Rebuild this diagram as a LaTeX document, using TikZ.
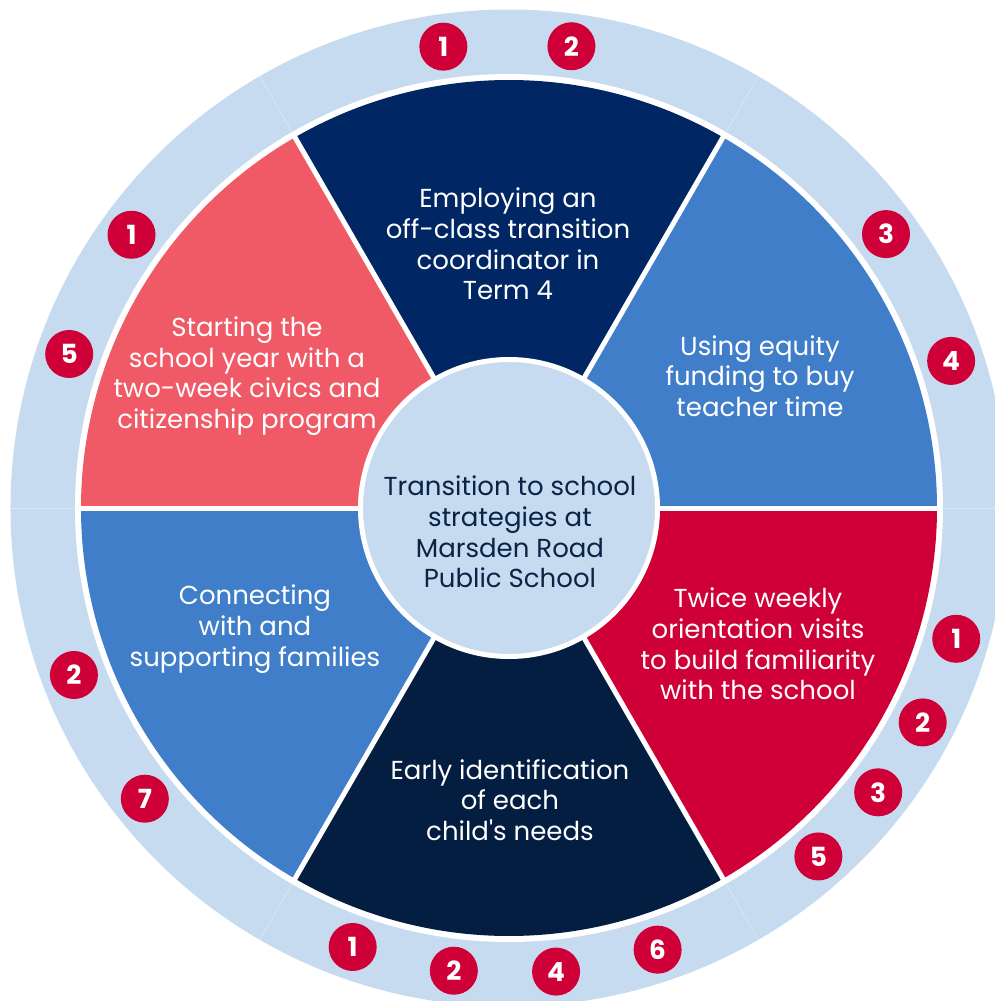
\documentclass[tikz,border=0pt]{standalone}
\usepackage{fontspec}
\setmainfont{Poppins}
\definecolor{ringblue}{HTML}{C6DBEF}
\definecolor{topnavy}{HTML}{002664}
\definecolor{deepnavy}{HTML}{041E42}
\definecolor{midblue}{HTML}{407EC9}
\definecolor{badgered}{HTML}{CE0037}
\definecolor{coral}{HTML}{F05A67}
\definecolor{hubtext}{HTML}{0A2346}

\begin{document}
\begin{tikzpicture}[
  sectortext/.style={text=white,align=center,font=\fontsize{14.8}{17.5}\selectfont},
  badge/.style={circle,fill=badgered,text=white,minimum size=0.96cm,inner sep=0pt,font=\bfseries\fontsize{15}{15}\selectfont},
  divider/.style={white,line width=0.1cm}]
\useasboundingbox (-10.18,-9.86) rectangle (9.72,10.16);
\clip (-10.18,-9.86) rectangle (9.72,10.16);
% outer ring
\fill[ringblue] (0,0) circle (9.97);
\foreach \a in {0,60,...,300}
   \draw[white,opacity=0.35,line width=0.4pt] (\a:8.7) -- (\a:9.97);
\fill[white] (0,0) circle (8.68);
% six sectors
\foreach \a/\c in {0/midblue,60/topnavy,120/coral,180/midblue,240/deepnavy,300/badgered}
   \fill[\c] (0,0) -- (\a:8.56) arc (\a:\a+60:8.56) -- cycle;
\foreach \a in {0,60,...,300}
   \draw[divider] (0,0) -- (\a:8.62);
% hub
\node[circle,fill=ringblue,draw=white,line width=0.1cm,minimum size=5.94cm] (hub) at (0,0) {};
\node[sectortext,text=hubtext] (hubtxt) at (0.02,-0.48) {Transition to school\\strategies at\\Marsden Road\\Public School};
% sector texts
\node[sectortext] (coordinator) at (-0.02,5.28) {Employing an\\off-class transition\\coordinator in\\Term 4};
\node[sectortext] (equity) at (5.02,2.64) {Using equity\\funding to buy\\teacher time};
\node[sectortext] (visits) at (4.98,-2.72) {Twice weekly\\orientation visits\\to build familiarity\\with the school};
\node[sectortext] (needs) at (0.02,-5.84) {Early identification\\of each\\child\textquotesingle s needs};
\node[sectortext] (families) at (-5.08,-2.42) {Connecting\\with and\\supporting families};
\node[sectortext] (civics) at (-5.24,2.64) {Starting the\\school year with a\\two-week civics and\\citizenship program};
% numbered badges
\foreach \a/\n [count=\i] in {98.1/1,82.3/2,144.1/1,160.7/5,36.0/3,18.4/4,201.0/2,218.6/7,
   -16.3/1,-27.4/2,-37.6/3,-48.4/5,250.4/1,263.2/2,275.8/4,288.6/6}
   \node[badge] (b\i) at (\a:9.32) {\n};
\end{tikzpicture}
\end{document}
